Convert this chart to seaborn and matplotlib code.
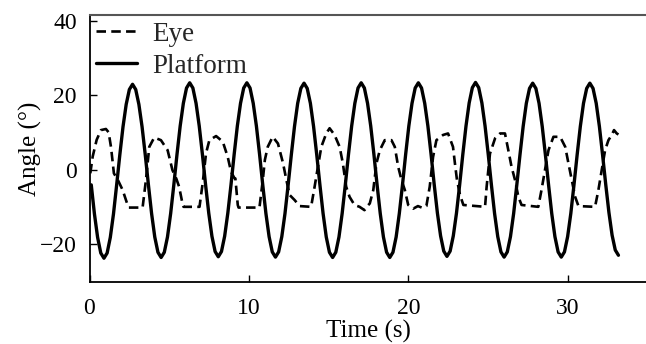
import numpy as np
import pandas as pd
import matplotlib
matplotlib.use("Agg")
import matplotlib.pyplot as plt
import seaborn as sns

# ---------------- data ----------------
# Platform angle, uniformly sampled every ~0.2 s starting at t = 0.11 s
platform_start = 0.11
platform_dt = 0.1992
platform_angle = [
    -4.1, -11.9, -18.2, -22.4,
    -23.8, -22.4, -18.2, -11.9, -4.1, 4.0, 11.5, 17.5, 21.5, 22.9, 21.5, 17.5, 11.5, 4.0, -4.1, -11.8, -18.1, -22.2,
    -23.6, -22.2, -18.1, -11.8, -4.1, 4.1, 11.7, 17.8, 21.9, 23.3, 21.9, 17.8, 11.7, 4.1, -4.1, -11.7, -17.9, -22.0,
    -23.4, -22.0, -17.9, -11.7, -4.1, 4.1, 11.7, 17.8, 21.9, 23.3, 21.9, 17.8, 11.7, 4.1, -4.1, -11.8, -18.0, -22.1,
    -23.5, -22.1, -18.0, -11.8, -4.1, 4.0, 11.6, 17.8, 21.8, 23.2, 21.8, 17.8, 11.6, 4.0, -4.1, -11.8, -18.1, -22.2,
    -23.6, -22.2, -18.1, -11.8, -4.1, 4.1, 11.7, 17.8, 21.9, 23.3, 21.9, 17.8, 11.7, 4.1, -4.1, -11.8, -18.1, -22.2,
    -23.6, -22.2, -18.1, -11.8, -4.1, 4.1, 11.7, 17.8, 21.9, 23.3, 21.9, 17.8, 11.7, 4.1, -4.1, -11.7, -17.8, -21.9,
    -23.3, -21.9, -17.8, -11.7, -4.1, 4.1, 11.7, 17.9, 22.0, 23.4, 22.0, 17.9, 11.7, 4.1, -4.1, -11.8, -18.0, -22.1,
    -23.5, -22.1, -18.0, -11.8, -4.1, 4.0, 11.6, 17.8, 21.8, 23.2, 21.8, 17.8, 11.6, 4.0, -4.1, -11.8, -18.0, -22.1,
    -23.5, -22.1, -18.0, -11.8, -4.1, 4.0, 11.6, 17.8, 21.8, 23.2, 21.8, 17.8, 11.6, 4.0, -4.0, -11.5, -17.6, -21.6,
    -23.0,
]
platform_time = platform_start + platform_dt * np.arange(len(platform_angle))

eye_time = [
    0.05, 0.2, 0.45, 0.72, 1.03, 1.2, 1.35, 1.53, 1.78, 2.08, 2.39, 2.47, 3.33, 3.54, 3.75,
    4.06, 4.48, 4.9, 5.2, 5.45, 5.62, 5.85, 5.9, 6.9, 7.1, 7.31, 7.52, 7.94, 8.36, 8.67,
    8.88, 9.09, 9.15, 9.3, 9.35, 10.66, 10.87, 11.0, 11.18, 11.49, 11.82, 12.14, 12.35,
    12.55, 12.87, 13.18, 13.9, 14.12, 14.33, 14.54, 14.85, 15.06, 15.37, 15.69, 15.89,
    16.1, 16.31, 16.62, 16.94, 17.25, 17.38, 17.58, 17.8, 18.0, 18.21, 18.52, 18.94,
    19.15, 19.36, 19.57, 19.78, 19.99, 20.3, 20.6, 20.9, 21.13, 21.34, 21.55, 21.76,
    22.18, 22.49, 22.8, 22.92, 23.05, 23.24, 23.45, 24.81, 24.91, 25.12, 25.44, 25.75,
    26.06, 26.27, 26.47, 26.69, 26.9, 27.1, 28.15, 28.35, 28.57, 28.79, 29.1, 29.52,
    29.84, 30.04, 30.25, 30.46, 30.67, 31.71, 31.92, 32.13, 32.34, 32.55, 32.76, 32.9,
    33.07, 33.22,
]
eye_angle = [
    -1.0, 3.5, 8.0, 10.6, 10.9, 10.0, 6.0, -1.0, -2.8, -5.5, -9.5, -10.2, -10.2, -2.8, 6.1,
    8.6, 7.9, 5.2, -0.1, -2.5, -4.6, -9.5, -10.0, -10.0, -3.6, 4.4, 7.9, 9.0, 7.5, 3.4,
    -0.6, -2.3, -2.4, -9.5, -10.2, -10.2, -2.8, 2.6, 6.1, 8.8, 7.0, 1.7, -2.8,
    -6.8, -8.2, -9.8, -10.0, -4.6, 0.8, 6.1, 9.7, 11.1, 9.3, 6.1, 1.7,
    -4.6, -7.3, -9.5, -10.0, -10.9, -10.0, -9.1, -5.5, 1.7, 5.2, 7.9, 7.9,
    6.1, 0.8, -2.8, -5.5, -9.5, -10.5, -9.8, -10.3, -9.8, -4.6, 3.4, 7.9,
    9.3, 9.7, 6.1, 1.7, -2.8, -6.8, -9.5, -10.0, -4.6, 4.3, 8.4, 9.7,
    9.7, 5.2, 0.8, -2.8, -7.3, -9.5, -10.0, -5.5, -0.1, 5.2, 8.8, 8.8,
    6.1, 1.7, -2.8, -7.3, -9.8, -10.0, -5.5, -0.1, 5.2, 7.9, 9.3, 10.6,
    9.7, 9.3,
]

x_ticks = [0, 10, 20, 30]
y_ticks = [-20, 0, 20, 40]
x_label = "Time (s)"
y_label = "Angle (°)"
series_names = ["Eye", "Platform"]

# ---------------- styling ----------------
sns.set_theme(style="ticks")
plt.rcParams["font.family"] = ["Liberation Serif", "DejaVu Serif"]
plt.rcParams["xtick.direction"] = "in"
plt.rcParams["ytick.direction"] = "in"

fig = plt.figure(figsize=(6.46, 3.44), dpi=100)
ax = fig.add_axes([89.5 / 646, 62.3 / 344, 558 / 646, 266.7 / 344])

eye_df = pd.DataFrame({"t": eye_time, "a": eye_angle})
plat_df = pd.DataFrame({"t": platform_time, "a": platform_angle})

sns.lineplot(data=eye_df, x="t", y="a", ax=ax, color="black", lw=1.9,
             linestyle=(0, (3.6, 2.0)), label=series_names[0], sort=False,
             errorbar=None)
sns.lineplot(data=plat_df, x="t", y="a", ax=ax, color="black", lw=2.4,
             label=series_names[1], sort=False, errorbar=None)

ax.set_xlim(0, 35)
ax.set_ylim(-30.1, 41.5)
ax.set_xticks(x_ticks)
ax.set_yticks(y_ticks)
ax.set_yticklabels(["\u221220", "0", "20", "40"])
ax.tick_params(axis="both", length=5, width=1, colors="black", labelsize=17)
ax.tick_params(axis="x", pad=11.5)
ax.tick_params(axis="y", pad=9)

ax.set_xlabel(x_label, fontsize=18, labelpad=0.8, color="black")
ax.set_ylabel(y_label, fontsize=18, labelpad=-1, color="black")

for s in ["left", "bottom"]:
    ax.spines[s].set_color("black")
    ax.spines[s].set_linewidth(1.3)
ax.spines["top"].set_color("#555555")
ax.spines["top"].set_linewidth(1.5)
ax.spines["right"].set_visible(False)

ax.legend(loc="upper left", frameon=False, fontsize=19.5, handlelength=1.5,
          handletextpad=0.55, labelspacing=0.25, borderaxespad=0.1,
          borderpad=0.15)

fig.savefig("out.png", dpi=100)
